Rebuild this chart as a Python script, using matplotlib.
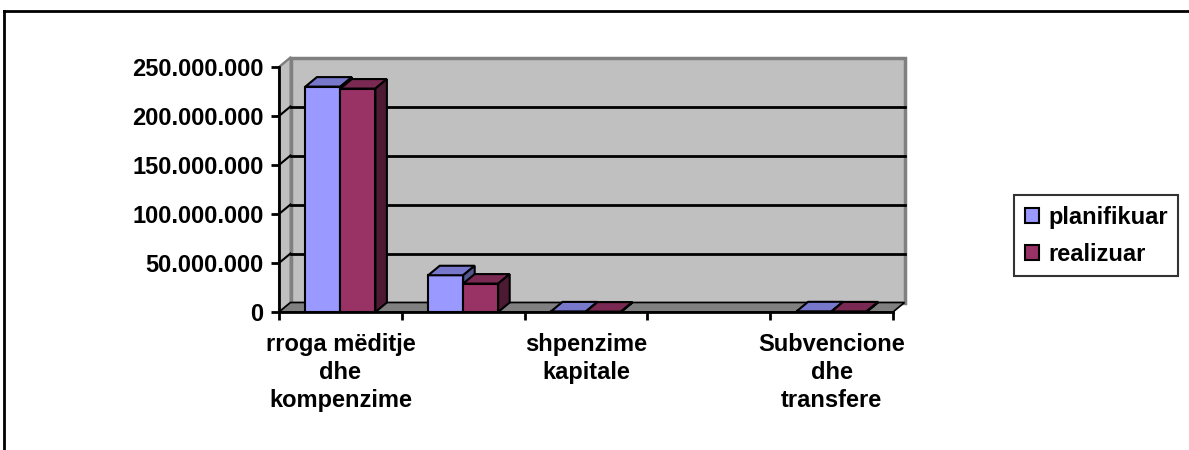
import matplotlib
matplotlib.use("Agg")
import matplotlib.pyplot as plt
import numpy as np
from matplotlib.patches import Polygon, Rectangle, Patch
from matplotlib.lines import Line2D
from matplotlib.ticker import FuncFormatter

plt.rcParams['font.family'] = ['Liberation Sans', 'DejaVu Sans']
plt.rcParams['font.weight'] = 'bold'

# ---- data ----
categories = ["rroga mëditje\ndhe\nkompenzime", "mallra dhe\nshërbime", "shpenzime\nkapitale",
              "shpenzime\nkomunale", "Subvencione\ndhe\ntransfere"]
shown_labels = [True, False, True, False, True]
series_names = ["planifikuar", "realizuar"]
planifikuar = [230_000_000, 37_500_000, 600_000, np.nan, 700_000]
realizuar = [228_000_000, 29_000_000, 400_000, np.nan, 600_000]
yticks = [0, 50_000_000, 100_000_000, 150_000_000, 200_000_000, 250_000_000]

front_cols = ["#9999FF", "#993366"]
top_cols = ["#7777CC", "#7A2952"]
side_cols = ["#55558F", "#4D1A33"]

W, H = 1189, 450
fig = plt.figure(figsize=(W / 100, H / 100), dpi=100)
ax = fig.add_axes([279 / W, (H - 312) / H, 614 / W, 245 / H])
n = len(categories)
ymax = yticks[-1]
ax.set_xlim(0, n)
ax.set_ylim(0, ymax)

# depth offsets (pixels -> data units)
dx = 11.5 * n / 614
dy = 9.5 * ymax / 245

# walls
back = Rectangle((dx, dy), n, ymax, facecolor="#C0C0C0", edgecolor="#808080", lw=2.5, zorder=0, clip_on=False)
ax.add_patch(back)
left = Polygon([(0, 0), (0, ymax), (dx, ymax + dy), (dx, dy)], closed=True, facecolor="#C0C0C0",
               edgecolor="#808080", lw=1.5, zorder=0.5, clip_on=False)
ax.add_patch(left)
floor = Polygon([(0, 0), (n, 0), (n + dx, dy), (dx, dy)], closed=True, facecolor="#808080",
                edgecolor="#000000", lw=1.2, zorder=0.6, clip_on=False)
ax.add_patch(floor)

# gridlines on back wall + left wall
for t in yticks[1:-1]:
    ax.plot([dx, n + dx], [t + dy, t + dy], color="black", lw=2, zorder=0.7, clip_on=False)
    ax.plot([0, dx], [t, t + dy], color="black", lw=1.5, zorder=0.7, clip_on=False)
ax.plot([0, dx], [ymax, ymax + dy], color="#808080", lw=1.5, zorder=0.7, clip_on=False)

# bars
bw = 0.285
for i in range(n):
    for s, vals in enumerate([planifikuar, realizuar]):
        v = vals[i]
        if np.isnan(v):
            continue
        x0 = i + 0.5 - bw + s * bw
        x1 = x0 + bw
        z = 2 + i * 0.1 + s * 0.01
        ax.bar(x0, v, width=bw, align="edge", color=front_cols[s], edgecolor="black", lw=1.5, zorder=z)
        ax.add_patch(Polygon([(x0, v), (x1, v), (x1 + dx, v + dy), (x0 + dx, v + dy)], closed=True,
                             facecolor=top_cols[s], edgecolor="black", lw=1.5, zorder=z, clip_on=False))
        ax.add_patch(Polygon([(x1, 0), (x1, v), (x1 + dx, v + dy), (x1 + dx, dy)], closed=True,
                             facecolor=side_cols[s], edgecolor="black", lw=1.5, zorder=z, clip_on=False))

# axes
for sp in ["top", "right"]:
    ax.spines[sp].set_visible(False)
for sp in ["left", "bottom"]:
    ax.spines[sp].set_linewidth(2)
    ax.spines[sp].set_zorder(5)
ax.set_facecolor("none")
ax.set_yticks(yticks)
ax.yaxis.set_major_formatter(FuncFormatter(lambda v, p: f"{int(v):,}".replace(",", ".")))
ax.tick_params(axis="y", direction="out", length=6, width=2, pad=5, labelsize=17)
ax.set_xticks(np.arange(n + 1))
ax.set_xticklabels([])
ax.tick_params(axis="x", which="major", direction="out", length=6, width=2)
ax.set_xticks(np.arange(n) + 0.5, minor=True)
ax.set_xticklabels([c if sh else "" for c, sh in zip(categories, shown_labels)], minor=True,
                   fontsize=17, fontweight="bold", linespacing=1.28)
ax.tick_params(axis="x", which="minor", length=0, pad=15)
for lab in ax.get_yticklabels():
    lab.set_fontweight("bold")

# legend
handles = [Patch(facecolor=front_cols[k], edgecolor="black", lw=1.5) for k in range(2)]
leg = fig.legend(handles, series_names, loc="upper left", bbox_to_anchor=(1014 / W, 1 - 195 / H),
                 frameon=True, fancybox=False, shadow=False, prop={"size": 17, "weight": "bold"},
                 handlelength=0.6, handleheight=0.6, handletextpad=0.4, labelspacing=0.6,
                 borderpad=0.45, borderaxespad=0)
leg.get_frame().set_edgecolor("black")
leg.get_frame().set_linewidth(1.5)

# outer frame (top and left edges)
fig.add_artist(Line2D([4 / W, 4 / W], [0, 1 - 11 / H], color="black", lw=2))
fig.add_artist(Line2D([4 / W, 1], [1 - 11 / H, 1 - 11 / H], color="black", lw=2))

fig.savefig("out.png", dpi=100)
